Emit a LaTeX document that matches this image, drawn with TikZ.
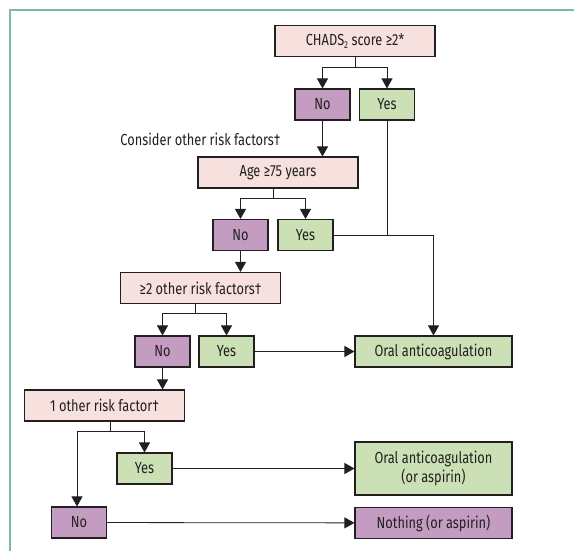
\documentclass[tikz,border=0pt]{standalone}
\usepackage{fontspec}
\setmainfont{Fira Sans}[FakeStretch=0.8]
\usetikzlibrary{arrows.meta,calc}
\definecolor{askcol}{HTML}{F6E1DF}
\definecolor{nocol}{HTML}{C59CC1}
\definecolor{yescol}{HTML}{CBE1B5}
\definecolor{framecol}{HTML}{7DB99B}
\definecolor{inkcol}{HTML}{231F20}
\begin{document}
\begin{tikzpicture}[x=1pt,y=-1pt,
    font=\fontsize{16}{19}\selectfont,
    box/.style={draw=inkcol, line width=1.1pt, text=inkcol, inner sep=0pt, minimum height=31pt},
    askbox/.style={box, fill=askcol, minimum width=160pt},
    nobox/.style={box, fill=nocol, minimum width=55pt},
    yesbox/.style={box, fill=yescol, minimum width=55pt},
    endbox/.style={box, minimum width=157pt, align=center},
    arr/.style={draw=inkcol, line width=0.8pt, -{Triangle[length=10pt,width=11pt]}},
    ln/.style={draw=inkcol, line width=0.8pt}]
    \useasboundingbox (0,0) rectangle (574,551);
    \draw [framecol, line width=1.4pt] (574,10) -- (10,10) -- (10,551);

    \node [askbox] (chads) at (355,41) {CHADS\raisebox{-0.35ex}{\fontsize{10}{10}\selectfont 2} score ≥2*};
    \node [nobox] (no1) at (322.5,104.5) {No};
    \node [yesbox] (yes1) at (387,104.5) {Yes};
    \node [text=inkcol, anchor=east] (consider) at (284,139) {Consider other risk factors†};
    \node [askbox] (age) at (278,172.5) {Age ≥75 years};
    \node [nobox] (no2) at (240.5,235) {No};
    \node [yesbox] (yes2) at (305.5,235) {Yes};
    \node [askbox] (two) at (200.5,288) {≥2 other risk factors†};
    \node [nobox] (no3) at (162.5,351.5) {No};
    \node [yesbox] (yes3) at (226.5,351.5) {Yes};
    \node [askbox] (one) at (104.5,405.5) {1 other risk factor†};
    \node [yesbox] (yes4) at (144.5,468.5) {Yes};
    \node [nobox] (no4) at (79,522.5) {No};
    \node [endbox, fill=yescol] (oa) at (433.5,351.5) {Oral anticoagulation};
    \node [endbox, fill=yescol, minimum height=53pt] (oaa) at (433.5,468.5) {Oral anticoagulation\\(or aspirin)};
    \node [endbox, fill=nocol] (nothing) at (433.5,523) {Nothing (or aspirin)};

    \coordinate (j1) at (355,67);
    \draw [ln] (chads.south) -- (j1);
    \draw [arr] (j1) -| (no1);
    \draw [arr] (j1) -| (yes1);
    \draw [arr] (no1) -- (no1 |- age.north);

    \coordinate (j2) at (273.5,198);
    \draw [ln] (j2 |- age.south) -- (j2);
    \draw [arr] (j2) -| (no2);
    \draw [arr] (j2) -| (yes2);
    \draw [ln] (yes1) -- (yes1 |- yes2.east);
    \draw [arr] (yes2) -| (oa);
    \draw [arr] (no2) -- (no2 |- two.north);

    \coordinate (j3) at (195.5,313);
    \draw [ln] (j3 |- two.south) -- (j3);
    \draw [arr] (j3) -| (no3);
    \draw [arr] (j3) -| (yes3);
    \draw [arr] (yes3) -- (oa);
    \draw [arr] (no3) -- (no3 |- one.north);

    \coordinate (j4) at (110,431);
    \draw [ln] (j4 |- one.south) -- (j4);
    \draw [arr] (j4) -| (yes4);
    \draw [arr] (j4) -| ($(no4.north)+(-2,0)$);
    \draw [arr] (yes4) -- (oaa);
    \draw [arr] (no4) -- (nothing);
\end{tikzpicture}
\end{document}
